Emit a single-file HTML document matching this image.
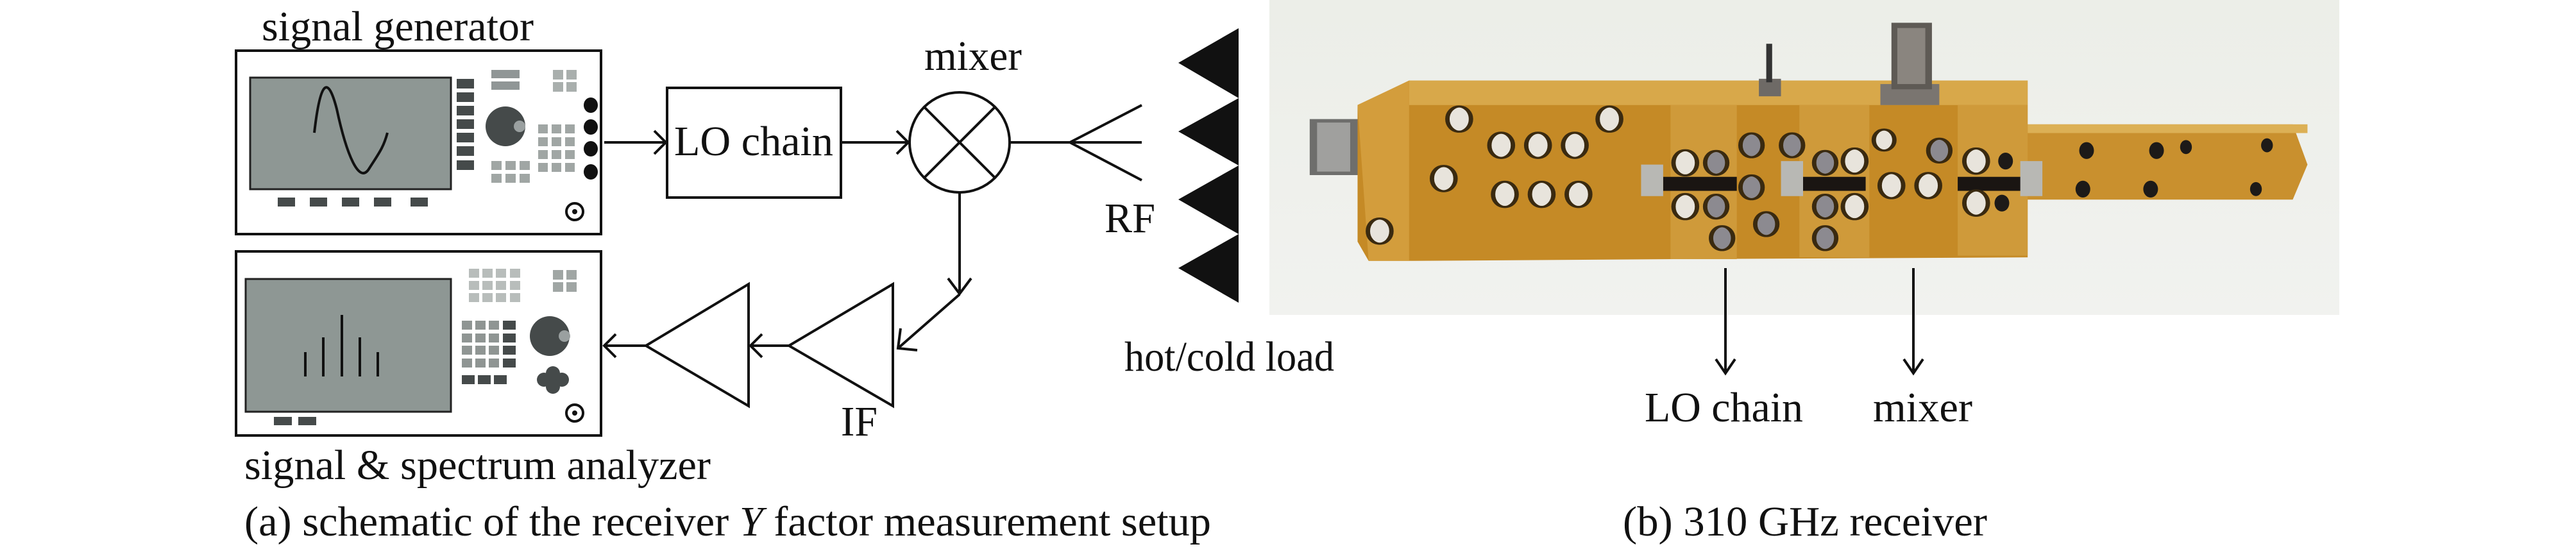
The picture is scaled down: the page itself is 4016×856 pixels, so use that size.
<!DOCTYPE html>
<html><head><meta charset="utf-8"><style>html,body{margin:0;padding:0;background:#fff}svg{display:block}</style></head>
<body>
<svg width="4016" height="856" viewBox="0 0 4016 856" xmlns="http://www.w3.org/2000/svg" font-family="'Liberation Serif', serif" fill="#111">
<defs>
<linearGradient id="bg" x1="0" y1="0" x2="0" y2="1"><stop offset="0" stop-color="#eceee8"/><stop offset="1" stop-color="#f1f2ef"/></linearGradient>
</defs>
<!-- Photo -->
<rect x="1979" y="0" width="1668" height="491" fill="url(#bg)"/>
<g transform="translate(1950,0) scale(1.148,0.546)">
  <rect x="80" y="340" width="68" height="160" fill="#6e6e6c"/>
  <rect x="90" y="350" width="45" height="140" fill="#a0a09e"/>
  <polygon points="1050,355 1415,355 1435,470 1415,570 1050,570" fill="#c9902e"/>
  <rect x="1050" y="355" width="385" height="25" fill="#dcb055"/>
  <polygon points="145,300 215,230 1055,230 1055,735 575,740 220,745 160,745 145,690" fill="#c58a26"/>
  <rect x="215" y="230" width="840" height="70" fill="#d8a84a"/>
  <polygon points="145,300 215,230 215,745 160,745" fill="#d39d3c"/>
  <rect x="570" y="300" width="90" height="440" fill="#cf9a3a"/>
  <rect x="745" y="300" width="95" height="435" fill="#cf9a3a"/>
  <rect x="960" y="300" width="95" height="430" fill="#cf9a3a"/>
  <rect x="855" y="240" width="80" height="60" fill="#7a7570"/>
  <rect x="870" y="65" width="55" height="190" fill="#5e5a55"/>
  <rect x="878" y="80" width="38" height="160" fill="#8a857f"/>
  <rect x="690" y="225" width="30" height="50" fill="#6e6a66"/>
  <rect x="700" y="125" width="8" height="110" fill="#333"/>
  <rect x="560" y="505" width="100" height="40" fill="#1a1512"/>
  <rect x="750" y="505" width="85" height="40" fill="#1a1512"/>
  <rect x="960" y="505" width="90" height="40" fill="#1a1512"/>
  <rect x="530" y="470" width="30" height="90" fill="#b8b8b4"/>
  <rect x="720" y="460" width="30" height="100" fill="#b8b8b4"/>
  <rect x="1045" y="460" width="30" height="100" fill="#b8b8b4"/>
  <g fill="#e8e4dc" stroke="#3a2a10" stroke-width="6">
    <ellipse cx="283" cy="340" rx="16" ry="36"/><ellipse cx="340" cy="415" rx="16" ry="36"/>
    <ellipse cx="390" cy="415" rx="16" ry="36"/><ellipse cx="440" cy="415" rx="16" ry="36"/>
    <ellipse cx="487" cy="340" rx="16" ry="36"/><ellipse cx="262" cy="510" rx="16" ry="36"/>
    <ellipse cx="345" cy="555" rx="16" ry="36"/><ellipse cx="395" cy="555" rx="16" ry="36"/>
    <ellipse cx="445" cy="555" rx="16" ry="36"/><ellipse cx="175" cy="660" rx="16" ry="36"/>
    <ellipse cx="590" cy="465" rx="16" ry="36"/><ellipse cx="590" cy="590" rx="16" ry="36"/>
    <ellipse cx="820" cy="460" rx="16" ry="36"/><ellipse cx="820" cy="590" rx="16" ry="36"/>
    <ellipse cx="860" cy="400" rx="14" ry="30"/><ellipse cx="870" cy="530" rx="16" ry="36"/>
    <ellipse cx="920" cy="530" rx="16" ry="36"/><ellipse cx="985" cy="460" rx="16" ry="36"/>
    <ellipse cx="985" cy="580" rx="16" ry="36"/>
  </g>
  <g fill="#8c8a90" stroke="#3a2a10" stroke-width="6">
    <ellipse cx="632" cy="465" rx="15" ry="34"/><ellipse cx="632" cy="590" rx="15" ry="34"/>
    <ellipse cx="640" cy="680" rx="15" ry="34"/><ellipse cx="680" cy="415" rx="15" ry="34"/>
    <ellipse cx="735" cy="415" rx="15" ry="34"/><ellipse cx="680" cy="535" rx="15" ry="34"/>
    <ellipse cx="780" cy="465" rx="15" ry="34"/><ellipse cx="780" cy="590" rx="15" ry="34"/>
    <ellipse cx="780" cy="680" rx="15" ry="34"/><ellipse cx="935" cy="430" rx="15" ry="34"/>
    <ellipse cx="700" cy="640" rx="15" ry="34"/>
  </g>
  <g fill="#1d1a18">
    <ellipse cx="1135" cy="430" rx="10" ry="24"/><ellipse cx="1230" cy="430" rx="10" ry="24"/>
    <ellipse cx="1270" cy="420" rx="8" ry="20"/><ellipse cx="1380" cy="415" rx="8" ry="20"/>
    <ellipse cx="1130" cy="540" rx="10" ry="24"/><ellipse cx="1222" cy="540" rx="10" ry="24"/>
    <ellipse cx="1365" cy="540" rx="8" ry="20"/><ellipse cx="1025" cy="460" rx="10" ry="24"/>
    <ellipse cx="1020" cy="580" rx="10" ry="24"/>
  </g>
</g>

<!-- Signal generator -->
<rect x="368" y="79" width="569" height="286" fill="#fff" stroke="#111" stroke-width="4"/>
<rect x="390" y="121" width="313" height="174" fill="#8e9794" stroke="#222" stroke-width="3"/>
<path d="M490,207 C500,120 512,120 525,170 C540,240 560,290 576,262 C590,240 598,230 604,207" fill="none" stroke="#111" stroke-width="4"/>
<g fill="#454a4a">
<rect x="712" y="123" width="27" height="15"/><rect x="712" y="144" width="27" height="15"/><rect x="712" y="165" width="27" height="15"/><rect x="712" y="186" width="27" height="15"/><rect x="712" y="207" width="27" height="15"/><rect x="712" y="228" width="27" height="15"/><rect x="712" y="250" width="27" height="15"/>
<rect x="433" y="308" width="27" height="14"/><rect x="483" y="308" width="27" height="14"/><rect x="533" y="308" width="27" height="14"/><rect x="583" y="308" width="27" height="14"/><rect x="640" y="308" width="27" height="14"/>
<circle cx="788" cy="197" r="31"/>
</g>
<circle cx="810" cy="197" r="9" fill="#9aa0a0"/>
<g fill="#909696"><rect x="766" y="109" width="44" height="13"/><rect x="766" y="127" width="44" height="13"/></g>
<g fill="#a9afad"><rect x="862" y="109" width="16" height="15"/><rect x="883" y="109" width="16" height="15"/><rect x="862" y="128" width="16" height="15"/><rect x="883" y="128" width="16" height="15"/></g>
<g fill="#a0a6a4">
<rect x="839" y="194" width="15" height="14"/><rect x="860" y="194" width="15" height="14"/><rect x="881" y="194" width="15" height="14"/>
<rect x="839" y="214" width="15" height="14"/><rect x="860" y="214" width="15" height="14"/><rect x="881" y="214" width="15" height="14"/>
<rect x="839" y="234" width="15" height="14"/><rect x="860" y="234" width="15" height="14"/><rect x="881" y="234" width="15" height="14"/>
<rect x="839" y="254" width="15" height="14"/><rect x="860" y="254" width="15" height="14"/><rect x="881" y="254" width="15" height="14"/>
<rect x="766" y="251" width="16" height="14"/><rect x="788" y="251" width="16" height="14"/><rect x="810" y="251" width="16" height="14"/>
<rect x="766" y="271" width="16" height="14"/><rect x="788" y="271" width="16" height="14"/><rect x="810" y="271" width="16" height="14"/>
</g>
<g fill="#111"><ellipse cx="921" cy="164" rx="11" ry="12"/><ellipse cx="921" cy="198" rx="11" ry="12"/><ellipse cx="921" cy="232" rx="11" ry="12"/><ellipse cx="921" cy="268" rx="11" ry="12"/></g>
<circle cx="896" cy="330" r="13" fill="none" stroke="#111" stroke-width="4"/><circle cx="896" cy="330" r="4"/>

<!-- Analyzer -->
<rect x="368" y="392" width="569" height="287" fill="#fff" stroke="#111" stroke-width="4"/>
<rect x="383" y="435" width="320" height="207" fill="#8e9794" stroke="#222" stroke-width="3"/>
<g stroke="#111" stroke-width="4">
<line x1="476" y1="549" x2="476" y2="587"/><line x1="504" y1="526" x2="504" y2="587"/><line x1="533" y1="491" x2="533" y2="587"/><line x1="561" y1="526" x2="561" y2="587"/><line x1="589" y1="549" x2="589" y2="587"/>
</g>
<g fill="#b8bdbb">
<rect x="731" y="419" width="16" height="14"/><rect x="752" y="419" width="16" height="14"/><rect x="773" y="419" width="16" height="14"/><rect x="795" y="419" width="16" height="14"/>
<rect x="731" y="438" width="16" height="14"/><rect x="752" y="438" width="16" height="14"/><rect x="773" y="438" width="16" height="14"/><rect x="795" y="438" width="16" height="14"/>
<rect x="731" y="457" width="16" height="14"/><rect x="752" y="457" width="16" height="14"/><rect x="773" y="457" width="16" height="14"/><rect x="795" y="457" width="16" height="14"/>
</g>
<g fill="#a0a6a4"><rect x="862" y="421" width="16" height="15"/><rect x="883" y="421" width="16" height="15"/><rect x="862" y="440" width="16" height="15"/><rect x="883" y="440" width="16" height="15"/></g>
<g fill="#8f9593">
<rect x="720" y="500" width="16" height="14"/><rect x="741" y="500" width="16" height="14"/><rect x="762" y="500" width="16" height="14"/>
<rect x="720" y="520" width="16" height="14"/><rect x="741" y="520" width="16" height="14"/><rect x="762" y="520" width="16" height="14"/>
<rect x="720" y="539" width="16" height="14"/><rect x="741" y="539" width="16" height="14"/><rect x="762" y="539" width="16" height="14"/>
<rect x="720" y="559" width="16" height="14"/><rect x="741" y="559" width="16" height="14"/><rect x="762" y="559" width="16" height="14"/>
</g>
<g fill="#454a4a">
<rect x="784" y="500" width="20" height="14"/><rect x="784" y="520" width="20" height="14"/><rect x="784" y="539" width="20" height="14"/><rect x="784" y="559" width="20" height="14"/>
<rect x="720" y="585" width="20" height="14"/><rect x="745" y="585" width="20" height="14"/><rect x="770" y="585" width="20" height="14"/>
<rect x="427" y="650" width="28" height="13"/><rect x="465" y="650" width="28" height="13"/>
<circle cx="857" cy="524" r="31"/>
<circle cx="848" cy="592" r="11"/><circle cx="876" cy="592" r="11"/><circle cx="862" cy="582" r="11"/><circle cx="862" cy="603" r="11"/>
</g>
<circle cx="880" cy="524" r="9" fill="#9aa0a0"/>
<circle cx="896" cy="644" r="13" fill="none" stroke="#111" stroke-width="4"/><circle cx="896" cy="644" r="4"/>

<!-- LO chain, mixer, connectors -->
<g stroke="#111" stroke-width="4" fill="none">
<rect x="1040" y="137" width="271" height="171"/>
<line x1="942" y1="222" x2="1038" y2="222"/><polyline points="1020,204 1038,222 1020,240"/>
<line x1="1311" y1="222" x2="1416" y2="222"/><polyline points="1398,204 1416,222 1398,240"/>
<circle cx="1496" cy="222" r="78"/>
<line x1="1441" y1="167" x2="1551" y2="277"/><line x1="1551" y1="167" x2="1441" y2="277"/>
<line x1="1574" y1="222" x2="1780" y2="222"/>
<line x1="1668" y1="222" x2="1780" y2="164"/><line x1="1668" y1="222" x2="1780" y2="281"/>
<line x1="1496" y1="300" x2="1496" y2="456"/><polyline points="1478,434 1496,458 1514,434"/>
<line x1="1496" y1="459" x2="1400" y2="543"/><polyline points="1404,512 1400,543 1430,546"/>
<polygon points="1392,443 1392,633 1230,539"/>
<polygon points="1167,443 1167,633 1007,539"/>
<line x1="1230" y1="539" x2="1170" y2="539"/><polyline points="1188,521 1170,539 1188,557"/>
<line x1="1007" y1="539" x2="942" y2="539"/><polyline points="960,521 942,539 960,557"/>
<line x1="2690" y1="418" x2="2690" y2="580"/><polyline points="2675,560 2690,582 2705,560"/>
<line x1="2983" y1="418" x2="2983" y2="580"/><polyline points="2968,560 2983,582 2998,560"/>
</g>
<polygon points="1931,44 1837,98 1931,153 1837,205 1931,258 1837,311 1931,365 1837,418 1931,472" fill="#111"/>

<!-- Text -->
<g font-size="66">
<text x="408" y="63" textLength="424" lengthAdjust="spacingAndGlyphs">signal generator</text>
<text x="1441" y="109" textLength="152" lengthAdjust="spacingAndGlyphs">mixer</text>
<text x="1051" y="242" textLength="248" lengthAdjust="spacingAndGlyphs">LO chain</text>
<text x="1722" y="362" textLength="79" lengthAdjust="spacingAndGlyphs">RF</text>
<text x="1753" y="578" textLength="327" lengthAdjust="spacingAndGlyphs">hot/cold load</text>
<text x="1311" y="679" textLength="57" lengthAdjust="spacingAndGlyphs">IF</text>
<text x="381" y="747" textLength="727" lengthAdjust="spacingAndGlyphs">signal &amp; spectrum analyzer</text>
<text x="381" y="835" textLength="1507" lengthAdjust="spacingAndGlyphs">(a) schematic of the receiver <tspan font-style="italic">Y</tspan> factor measurement setup</text>
<text x="2564" y="657" textLength="247" lengthAdjust="spacingAndGlyphs">LO chain</text>
<text x="2920" y="657" textLength="155" lengthAdjust="spacingAndGlyphs">mixer</text>
<text x="2530" y="835" textLength="568" lengthAdjust="spacingAndGlyphs">(b) 310 GHz receiver</text>
</g>
</svg>
</body></html>
